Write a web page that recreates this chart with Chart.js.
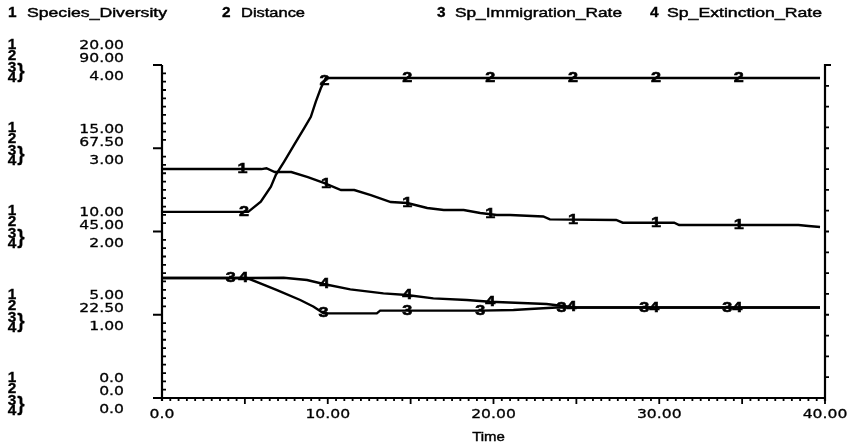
<!DOCTYPE html>
<html><head><meta charset="utf-8">
<script src="https://cdn.jsdelivr.net/npm/chart.js@4/dist/chart.umd.min.js"></script>
<style>html,body{margin:0;padding:0;background:#fff;overflow:hidden}#wrap{width:853px;height:448px}</style>
</head><body><div id="wrap"><canvas id="c" width="853" height="448"></canvas></div>
<script>
// ---- data ----
const seriesNames = ['Species_Diversity', 'Distance', 'Sp_Immigration_Rate', 'Sp_Extinction_Rate'];
const seriesNumbers = ['1', '2', '3', '4'];

const s1Time = [0, 6.0, 6.3, 6.8, 7.8, 8.8, 9.8, 10.8, 11.6, 12.6, 13.8, 14.8, 16.0, 17.0, 18.2, 19.2, 20.2, 21.0, 23.0, 23.4, 27.4, 27.8, 30.9, 31.2, 38.4, 39.0, 39.7];
const s1Vals = [13.75, 13.75, 13.8, 13.57, 13.57, 13.27, 12.91, 12.49, 12.49, 12.19, 11.77, 11.71, 11.41, 11.29, 11.29, 11.11, 10.99, 10.99, 10.9, 10.73, 10.69, 10.53, 10.53, 10.39, 10.39, 10.33, 10.27];

const s2Time = [0, 5.2, 5.96, 6.57, 6.87, 7.37, 7.97, 8.57, 8.98, 9.28, 9.58, 9.88, 39.7];
const s2Vals = [50.3, 50.3, 53.05, 57.1, 60.3, 63.9, 68.4, 72.9, 76.0, 80.1, 83.7, 86.5, 86.5];

const s3Time = [0, 5.13, 5.93, 6.94, 8.34, 9.15, 9.75, 12.96, 13.16, 19.2, 21.2, 22.2, 23.8, 39.7];
const s3Vals = [1.441, 1.441, 1.378, 1.297, 1.177, 1.097, 1.017, 1.017, 1.049, 1.049, 1.057, 1.069, 1.087, 1.087];

const s4Time = [0, 5.13, 7.34, 8.75, 9.75, 11.36, 13.36, 14.77, 16.37, 18.39, 19.79, 23.2, 24.2, 25.0, 39.7];
const s4Vals = [1.441, 1.441, 1.445, 1.417, 1.369, 1.305, 1.257, 1.237, 1.197, 1.177, 1.157, 1.129, 1.105, 1.087, 1.087];

const s1Marks = [4.85, 9.9, 14.8, 19.8, 24.8, 29.8, 34.8];
const s2Marks = [4.95, 9.8, 14.8, 19.8, 24.8, 29.8, 34.8];
const s3Marks = [4.15, 9.75, 14.8, 19.2, 24.1, 29.1, 34.1];
const s4Marks = [4.9, 9.8, 14.8, 19.8, 24.7, 29.7, 34.7];

const xTickValues = [0, 10, 20, 30, 40];
const xTickLabels = ['0.0', '10.00', '20.00', '30.00', '40.00'];
const xAxisTitle = 'Time';
const y1TickLabels = ['0.0', '5.00', '10.00', '15.00', '20.00'];
const y2TickLabels = ['0.0', '22.50', '45.00', '67.50', '90.00'];
const y34TickLabels = ['0.0', '1.00', '2.00', '3.00', '4.00'];
const y34TickValues = [0, 1, 2, 3, 4];

// ---- build ----
const toXY = (ts, vs) => ts.map((t, i) => ({x: t, y: vs[i]}));
const seriesTimes = [s1Time, s2Time, s3Time, s4Time];
const seriesVals = [s1Vals, s2Vals, s3Vals, s4Vals];
const seriesMarks = [s1Marks, s2Marks, s3Marks, s4Marks];
const axisIds = ['y1', 'y2', 'y3', 'y4'];

function interp(ts, vs, t) {
  for (let i = 1; i < ts.length; i++) {
    if (t <= ts[i]) {
      const f = (t - ts[i - 1]) / (ts[i] - ts[i - 1]);
      return vs[i - 1] + f * (vs[i] - vs[i - 1]);
    }
  }
  return vs[vs.length - 1];
}

function txt(ctx, s, x, y, font, align, sx, heavy) {
  ctx.save();
  ctx.font = font;
  ctx.textAlign = align;
  ctx.textBaseline = 'middle';
  ctx.translate(x, y);
  ctx.scale(sx, 1);
  ctx.fillText(s, 0, 0);
  if (heavy) { ctx.lineWidth = heavy; ctx.strokeText(s, 0, 0); }
  ctx.restore();
}
function txtFit(ctx, s, x, y, font, w, heavy) {
  ctx.save();
  ctx.font = font;
  const m = ctx.measureText(s).width;
  ctx.textAlign = 'left';
  ctx.textBaseline = 'middle';
  ctx.translate(x, y);
  ctx.scale(w / m, 1);
  ctx.fillText(s, 0, 0);
  if (heavy) { ctx.lineWidth = heavy; ctx.strokeText(s, 0, 0); }
  ctx.restore();
}

const SANS = '"Liberation Sans", Arial, sans-serif';
const GEN = '"DejaVu Sans", sans-serif';

const decor = {
  id: 'decor',
  afterDatasetsDraw(chart) {
    const ctx = chart.ctx;
    const xs = chart.scales.x, ys = chart.scales.y3;
    const L = xs.getPixelForValue(0), R = xs.getPixelForValue(40);
    const T = ys.getPixelForValue(4), B = ys.getPixelForValue(0);
    ctx.save();
    ctx.strokeStyle = '#000';
    ctx.fillStyle = '#000';
    ctx.lineWidth = 2.2;
    ctx.lineCap = 'butt';
    ctx.beginPath();
    // axes
    ctx.moveTo(L, T); ctx.lineTo(L, B + 3);
    ctx.moveTo(L - 1, B); ctx.lineTo(R + 1, B);
    ctx.moveTo(R, T - 1); ctx.lineTo(R, B + 3);
    // left major ticks (outward)
    for (const v of y34TickValues) {
      const y = ys.getPixelForValue(v);
      ctx.moveTo(L - 9, y); ctx.lineTo(L, y);
    }
    // top bracket right
    ctx.moveTo(R, T); ctx.lineTo(R + 6, T);
    ctx.stroke();
    // minor ticks
    ctx.lineWidth = 1.8;
    ctx.beginPath();
    for (let k = 1; k < 40; k++) {
      if (k % 10 === 0) continue;
      const y = ys.getPixelForValue(k / 10);
      ctx.moveTo(L, y); ctx.lineTo(L + 4, y);
    }
    for (let k = 1; k < 16; k++) {
      const y = ys.getPixelForValue(k / 4);
      ctx.moveTo(R, y); ctx.lineTo(R + 4, y);
    }
    for (let k = 1; k <= 80; k++) {
      const t = k / 2;
      const x = xs.getPixelForValue(t);
      const len = (k % 10 === 0) ? 6 : 3;
      ctx.moveTo(x, B); ctx.lineTo(x, B + len);
    }
    ctx.stroke();

    // x tick labels
    xTickValues.forEach((v, i) => {
      txt(ctx, xTickLabels[i], xs.getPixelForValue(v), B + 17, '13px ' + GEN, 'center', 1.2, 0.3);
    });
    txt(ctx, xAxisTitle, (L + R) / 2 - 5, B + 39, '13px ' + SANS, 'center', 1.15, 0.4);

    // left labels stacks
    y34TickValues.forEach((v, i) => {
      const g = ys.getPixelForValue(v);
      txt(ctx, y1TickLabels[i], 124, g - 19, '13px ' + GEN, 'right', 1.2, 0.3);
      txt(ctx, y2TickLabels[i], 124, g - 6, '13px ' + GEN, 'right', 1.2, 0.3);
      txt(ctx, y34TickLabels[i], 124, g + 12, '13px ' + GEN, 'right', 1.2, 0.3);
      txt(ctx, seriesNumbers[0], 12, g - 20, 'bold 14px ' + SANS, 'center', 1.1, 0.3);
      txt(ctx, seriesNumbers[1], 12, g - 9, 'bold 14px ' + SANS, 'center', 1.1, 0.3);
      txt(ctx, seriesNumbers[2], 12, g + 3, 'bold 14px ' + SANS, 'center', 1.1, 0.3);
      txt(ctx, seriesNumbers[3], 12, g + 13, 'bold 14px ' + SANS, 'center', 1.1, 0.3);
      txt(ctx, '}', 21, g + 7, 'bold 21px ' + SANS, 'center', 0.9, 0.3);
    });

    // legend
    const legX = [[8, 27, 140], [222, 241, 64], [437, 455, 167], [650, 667, 155]];
    seriesNames.forEach((n, i) => {
      txt(ctx, seriesNumbers[i], legX[i][0], 13, 'bold 14px ' + SANS, 'left', 1.1, 0.3);
      txtFit(ctx, n, legX[i][1], 13, '13.5px ' + SANS, legX[i][2], 0.45);
    });

    // series number markers
    seriesMarks.forEach((marks, si) => {
      const yscale = chart.scales[axisIds[si]];
      marks.forEach(t => {
        const v = interp(seriesTimes[si], seriesVals[si], t);
        txt(ctx, seriesNumbers[si], xs.getPixelForValue(t), yscale.getPixelForValue(v), 'bold 15px ' + SANS, 'center', 1.2, 0.6);
      });
    });
    ctx.restore();
  }
};

new Chart(document.getElementById('c'), {
  type: 'line',
  data: {
    datasets: seriesNames.map((n, i) => ({
      label: n,
      data: toXY(seriesTimes[i], seriesVals[i]),
      yAxisID: axisIds[i],
      borderColor: '#000',
      borderWidth: 2.4,
      pointRadius: 0,
      tension: 0,
      fill: false
    }))
  },
  options: {
    responsive: false,
    animation: false,
    events: [],
    layout: {padding: {left: 162, right: 28, top: 65, bottom: 50}},
    plugins: {legend: {display: false}, tooltip: {enabled: false}},
    scales: {
      x: {type: 'linear', min: 0, max: 40, display: false},
      y1: {type: 'linear', min: 0, max: 20, display: false},
      y2: {type: 'linear', min: 0, max: 90, display: false},
      y3: {type: 'linear', min: 0, max: 4, display: false},
      y4: {type: 'linear', min: 0, max: 4, display: false}
    }
  },
  plugins: [decor]
});
</script>
</body></html>
